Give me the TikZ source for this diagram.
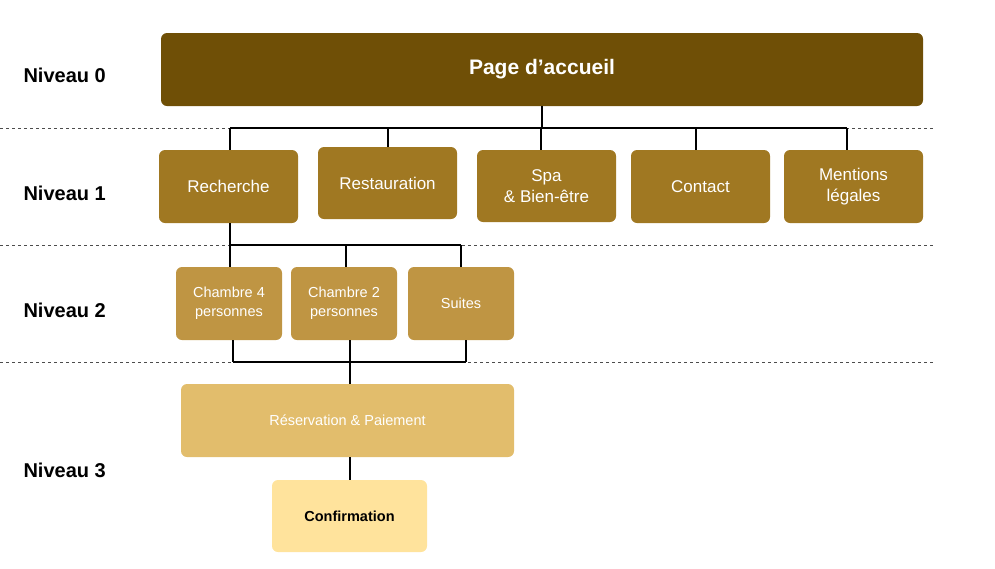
\documentclass[tikz,border=0pt]{standalone}
\usepackage{fontspec}
\setmainfont{Liberation Sans}
\begin{document}
\begin{tikzpicture}[x=1pt,y=-1pt,
  box/.style={rounded corners=6pt,text=white,align=center,inner sep=0pt},
  lvl/.style={anchor=west,font=\bfseries\fontsize{20}{24}\selectfont},
  conn/.style={line width=1.2pt,black},
  sep/.style={dashed,line width=0.6pt,black!70}]
\useasboundingbox (0,0) rectangle (995,568);
\definecolor{c0}{HTML}{6F4F06}
\definecolor{c1}{HTML}{A07822}
\definecolor{c2}{HTML}{BF9543}
\definecolor{c3}{HTML}{E2BD6C}
\definecolor{c4}{HTML}{FFE39C}
\foreach \y in {128,245,362} \draw[sep] (0,\y) -- (935,\y);
\node[lvl] (n0) at (20,75) {Niveau 0};
\node[lvl] (n1) at (20,193) {Niveau 1};
\node[lvl] (n2) at (20,310) {Niveau 2};
\node[lvl] (n3) at (20,470) {Niveau 3};
\node[box,fill=c0,minimum width=762,minimum height=73,font=\bfseries\fontsize{21}{25}\selectfont] (top) at (542,69.5) {Page d’accueil};
\tikzset{b1/.style={box,fill=c1,minimum width=139,minimum height=73,font=\fontsize{17}{21}\selectfont}}
\node[b1] (rech) at (228.5,186.5) {Recherche};
\node[b1,minimum height=72] (rest) at (387.5,183) {Restauration};
\node[b1,minimum height=72] (spa) at (546.5,186) {Spa\\\& Bien-être};
\node[b1] (cont) at (700.5,186.5) {Contact};
\node[b1] (ment) at (853.5,186.5) {Mentions\\légales};
\tikzset{b2/.style={box,fill=c2,minimum width=106,minimum height=73,font=\fontsize{14.5}{19}\selectfont}}
\node[b2] (ch4) at (229,303.5) {Chambre 4\\personnes};
\node[b2] (ch2) at (344,303.5) {Chambre 2\\personnes};
\node[b2] (sui) at (461,303.5) {Suites};
\node[box,fill=c3,minimum width=333,minimum height=73,font=\fontsize{14.5}{18}\selectfont] (res) at (347.5,420.5) {Réservation \& Paiement};
\node[box,fill=c4,text=black,minimum width=155,minimum height=72,font=\bfseries\fontsize{14.5}{18}\selectfont] (conf) at (349.5,516) {Confirmation};
\coordinate (j0) at (542,128);
\draw[conn] (top.south -| j0) -- (j0);
\draw[conn] (230,128) -- (847,128);
\foreach \n/\x in {rech/230,rest/388,spa/541,cont/696,ment/847}
  \draw[conn] (\x,128) -- (\n.north -| {(\x,0)});
\coordinate (j1) at (230,245);
\draw[conn] (rech.south -| j1) -- (j1);
\draw[conn] (230,245) -- (461,245);
\foreach \n/\x in {ch4/230,ch2/346,sui/461}
  \draw[conn] (\x,245) -- (\n.north -| {(\x,0)});
\foreach \n/\x in {ch4/233,ch2/350,sui/466}
  \draw[conn] (\n.south -| {(\x,0)}) -- (\x,362);
\draw[conn] (233,362) -- (466,362);
\coordinate (j2) at (350,362);
\draw[conn] (j2) -- (res.north -| j2);
\draw[conn] (res.south -| j2) -- (conf.north -| j2);
\end{tikzpicture}
\end{document}
